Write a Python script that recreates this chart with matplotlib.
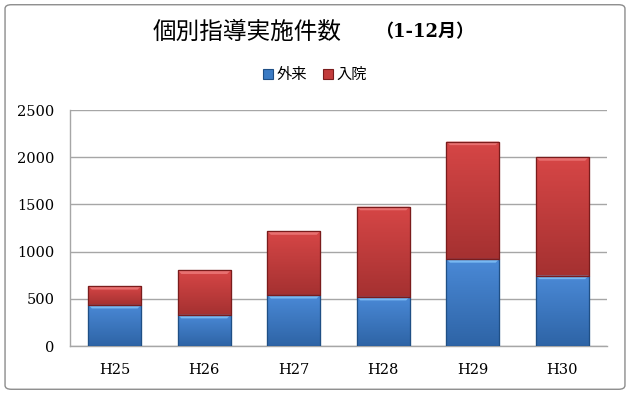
import matplotlib
matplotlib.use("Agg")
import matplotlib.pyplot as plt
from matplotlib.patches import FancyBboxPatch, Polygon, Rectangle
from matplotlib.colors import LinearSegmentedColormap
import numpy as np

categories = ["H25", "H26", "H27", "H28", "H29", "H30"]
outpatient = [435, 330, 540, 520, 920, 745]
inpatient = [200, 470, 675, 955, 1245, 1255]
yticks = [0, 500, 1000, 1500, 2000, 2500]

title_main = "個別指導実施件数"
title_sub = "（1-12月）"
legend_labels = ["外来", "入院"]

cjk = ["Noto Sans CJK JP", "DejaVu Sans"]
serif = ["DejaVu Serif", "Liberation Serif"]

fig = plt.figure(figsize=(6.3, 3.94), dpi=100)
fig.patches.append(FancyBboxPatch((0.008, 0.012), 0.984, 0.976,
                                  boxstyle="round,pad=0,rounding_size=0.01",
                                  transform=fig.transFigure, fill=False,
                                  edgecolor="#8c8c8c", linewidth=1.0))

ax = fig.add_axes([70/630, (394-346)/394, 537/630, 236/394])
x = np.arange(len(categories))
w = 0.59
b1 = ax.bar(x, outpatient, width=w, color="#3b7bc4", edgecolor="#1f4f85",
            linewidth=0.8, label=legend_labels[0], zorder=3)
b2 = ax.bar(x, inpatient, width=w, bottom=outpatient, color="#c23b3b",
            edgecolor="#7a1c1c", linewidth=0.8, label=legend_labels[1], zorder=3)

ax.set_xlim(-0.5, len(categories) - 0.5)
ax.set_ylim(0, 2500)

# gradient and bevel styling
styles = [
    (b1, ["#2e64a6", "#4a89d6"], "#78b8f2", "#1f4f85"),
    (b2, ["#a53131", "#d64646"], "#e87070", "#7a1c1c"),
]
px_x = (537 / len(categories))
px_y = 236 / 2500
dx = 3.5 / px_x
dy = 3.5 / px_y
grad = np.linspace(0, 1, 64).reshape(-1, 1)
for bars, cols, light, edge in styles:
    cmap = LinearSegmentedColormap.from_list("g", cols)
    for p in bars:
        x0, y0 = p.get_x(), p.get_y()
        x1, y1 = x0 + p.get_width(), y0 + p.get_height()
        im = ax.imshow(grad, extent=[x0, x1, y0, y1], origin="lower",
                       cmap=cmap, aspect="auto", zorder=3.1,
                       interpolation="bilinear")
        clip = Rectangle((x0, y0), x1 - x0, y1 - y0, transform=ax.transData)
        im.set_clip_path(clip)
        ax.add_patch(Polygon([(x0, y1), (x1, y1), (x1 - dx, y1 - dy),
                              (x0 + dx, y1 - dy)], closed=True,
                             facecolor=light, edgecolor="none", zorder=3.2))
        ax.add_patch(Rectangle((x0, y0), x1 - x0, y1 - y0, fill=False,
                               edgecolor=edge, linewidth=0.9, zorder=3.3))

ax.set_xlim(-0.5, len(categories) - 0.5)
ax.set_ylim(0, 2500)
ax.set_yticks(yticks)
ax.set_yticklabels([str(v) for v in yticks], fontfamily=serif, fontsize=10.5)
ax.set_xticks(x)
ax.set_xticklabels(categories, fontfamily=serif, fontsize=10.5)
ax.tick_params(axis="x", length=0, pad=12)
ax.tick_params(axis="y", length=0, pad=11)
ax.grid(axis="y", color="#a6a6a6", linewidth=1.0, zorder=0)
for s in ["top", "right"]:
    ax.spines[s].set_visible(False)
ax.spines["left"].set_color("#a6a6a6")
ax.spines["bottom"].set_color("#a6a6a6")
ax.spines["left"].set_linewidth(1.0)
ax.spines["bottom"].set_linewidth(1.0)

fig.text(0.242, 0.918, title_main, fontfamily=cjk, fontsize=17, ha="left", va="center")
fig.text(0.596, 0.918, title_sub, fontfamily=["DejaVu Serif", "Noto Sans CJK JP"],
         fontsize=13, fontweight="bold", ha="left", va="center")

leg = fig.legend(handles=[b1, b2], labels=legend_labels, loc="center",
                 bbox_to_anchor=(0.5, 0.81), ncol=2, frameon=False,
                 prop={"family": cjk, "size": 11}, handlelength=0.65,
                 handleheight=0.65, handletextpad=0.25, columnspacing=1.0)

fig.savefig("out.png", dpi=100)
